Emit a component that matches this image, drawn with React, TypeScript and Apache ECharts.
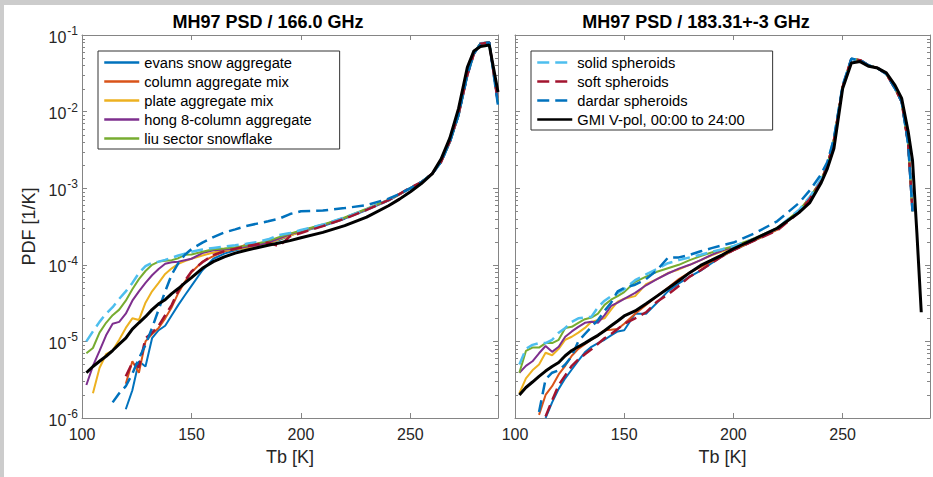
import React, { useEffect, useRef } from 'react';
import * as echarts from 'echarts';

// ---------- data ----------
const X_MIN = 100;
const X_MAX = 290;
const Y_MIN = 1e-6;
const Y_MAX = 1e-1;

const LEFT_TITLE = 'MH97 PSD / 166.0 GHz';
const RIGHT_TITLE = 'MH97 PSD / 183.31+-3 GHz';

const NAMES = [
  'evans snow aggregate',
  'column aggregate mix',
  'plate aggregate mix',
  'hong 8-column aggregate',
  'liu sector snowflake',
  'solid spheroids',
  'soft spheroids',
  'dardar spheroids',
  'GMI V-pol, 00:00 to 24:00',
];

// Left panel (166.0 GHz) – brightness temperature grid [K]
const LX = [102, 105, 108, 111, 114, 117, 120, 123, 126, 129, 132, 135, 138, 141, 144, 147, 150,
  155, 160, 165, 170, 175, 180, 185, 190, 195, 200,
  210, 220, 230, 240,
  245, 250, 255, 260, 264, 268, 272, 276, 279, 282, 286, 290];

const L_EVANS = [null, null, null, null, null, null, 1.3e-6, 2.3e-6, 5.5e-6, 4.7e-6, 1.1e-5, 1.4e-5, 1.6e-5, 2.2e-5, 3.0e-5, 4.0e-5, 5.3e-5,
  8.5e-5, 1.2e-4, 1.4e-4, 1.55e-4, 1.65e-4, 1.78e-4, 1.95e-4, 2.1e-4, 2.4e-4, 2.7e-4,
  3.2e-4, 4.0e-4, 5.2e-4, 6.9e-4,
  8.3e-4, 1.0e-3, 1.2e-3, 1.55e-3, 2.2e-3, 4.0e-3, 9.0e-3, 0.030, 0.058, 0.078, 0.080, 0.013];
const L_COLUMN = [null, null, null, null, null, null, 2.8e-6, 5.5e-6, 3.9e-6, 1.0e-5, 1.25e-5, 1.5e-5, 2.0e-5, 2.8e-5, 4.3e-5, 6.0e-5, 8.0e-5,
  1.1e-4, 1.3e-4, 1.5e-4, 1.6e-4, 1.85e-4, 1.8e-4, 2.0e-4, 2.2e-4, 2.45e-4, 2.75e-4,
  3.3e-4, 4.1e-4, 5.3e-4, 7.0e-4,
  8.3e-4, 1.0e-3, 1.2e-3, 1.55e-3, 2.2e-3, 4.0e-3, 9.2e-3, 0.030, 0.057, 0.077, 0.080, 0.013];
const L_PLATE = [null, 2.1e-6, 4.5e-6, 6.8e-6, 7.6e-6, 1.05e-5, 1.5e-5, 2.0e-5, 1.9e-5, 3.2e-5, 4.5e-5, 5.8e-5, 7.6e-5, 9.0e-5, 1.03e-4, 1.12e-4, 1.2e-4,
  1.32e-4, 1.45e-4, 1.55e-4, 1.6e-4, 1.65e-4, 1.75e-4, 1.9e-4, 2.15e-4, 2.4e-4, 2.7e-4,
  3.3e-4, 4.1e-4, 5.3e-4, 7.0e-4,
  8.3e-4, 1.0e-3, 1.2e-3, 1.55e-3, 2.2e-3, 4.0e-3, 9.0e-3, 0.030, 0.058, 0.078, 0.080, 0.013];
const L_HONG = [2.7e-6, 4.8e-6, 7.5e-6, 1.2e-5, 1.7e-5, 1.8e-5, 2.3e-5, 3.4e-5, 4.5e-5, 5.8e-5, 7.3e-5, 8.8e-5, 1.03e-4, 1.08e-4, 1.1e-4, 1.15e-4, 1.2e-4,
  1.42e-4, 1.55e-4, 1.58e-4, 1.62e-4, 1.72e-4, 1.8e-4, 1.95e-4, 2.2e-4, 2.5e-4, 2.75e-4,
  3.3e-4, 4.1e-4, 5.3e-4, 7.0e-4,
  8.3e-4, 1.0e-3, 1.2e-3, 1.55e-3, 2.2e-3, 4.0e-3, 9.0e-3, 0.030, 0.058, 0.078, 0.080, 0.013];
const L_LIU = [7.0e-6, 8.2e-6, 1.3e-5, 1.75e-5, 2.2e-5, 2.6e-5, 3.4e-5, 4.8e-5, 6.5e-5, 8.3e-5, 1.0e-4, 1.1e-4, 1.13e-4, 1.15e-4, 1.22e-4, 1.35e-4, 1.36e-4,
  1.48e-4, 1.6e-4, 1.63e-4, 1.7e-4, 1.78e-4, 1.9e-4, 2.05e-4, 2.3e-4, 2.55e-4, 2.8e-4,
  3.35e-4, 4.15e-4, 5.4e-4, 7.1e-4,
  8.4e-4, 1.0e-3, 1.2e-3, 1.55e-3, 2.2e-3, 4.0e-3, 9.0e-3, 0.030, 0.058, 0.078, 0.080, 0.013];
const L_SOLID = [1.0e-5, 1.35e-5, 1.8e-5, 2.3e-5, 2.8e-5, 3.6e-5, 4.5e-5, 5.8e-5, 7.8e-5, 9.6e-5, 1.06e-4, 1.1e-4, 1.16e-4, 1.24e-4, 1.32e-4, 1.4e-4, 1.48e-4,
  1.58e-4, 1.66e-4, 1.73e-4, 1.8e-4, 1.88e-4, 1.98e-4, 2.15e-4, 2.45e-4, 2.6e-4, 2.85e-4,
  3.35e-4, 4.15e-4, 5.3e-4, 7.0e-4,
  8.4e-4, 1.0e-3, 1.2e-3, 1.55e-3, 2.2e-3, 4.0e-3, 9.2e-3, 0.030, 0.058, 0.078, 0.080, 0.013];
const L_SOFT = [null, null, null, null, null, null, 3.5e-6, 5.3e-6, 4.6e-6, 1.1e-5, 1.3e-5, 1.6e-5, 2.2e-5, 3.0e-5, 4.6e-5, 6.2e-5, 8.2e-5,
  1.08e-4, 1.35e-4, 1.5e-4, 1.62e-4, 1.75e-4, 1.85e-4, 1.95e-4, 1.75e-4, 2.35e-4, 2.6e-4,
  3.2e-4, 4.0e-4, 5.2e-4, 7.0e-4,
  8.4e-4, 1.02e-3, 1.2e-3, 1.55e-3, 2.2e-3, 4.1e-3, 9.3e-3, 0.030, 0.057, 0.077, 0.080, 0.013];
const L_DARDAR = [null, null, null, null, 1.6e-6, 2.1e-6, 2.6e-6, 3.8e-6, 6.0e-6, 9.0e-6, 1.5e-5, 2.6e-5, 4.5e-5, 7.5e-5, 1.05e-4, 1.35e-4, 1.6e-4,
  1.95e-4, 2.3e-4, 2.65e-4, 2.9e-4, 3.2e-4, 3.45e-4, 3.7e-4, 4.0e-4, 4.6e-4, 5.0e-4,
  5.1e-4, 5.5e-4, 6.0e-4, 7.3e-4,
  8.4e-4, 1.0e-3, 1.2e-3, 1.55e-3, 2.2e-3, 4.0e-3, 9.0e-3, 0.030, 0.057, 0.077, 0.080, 0.012];
const L_GMI = [3.9e-6, 4.7e-6, 5.5e-6, 6.4e-6, 7.6e-6, 9.2e-6, 1.1e-5, 1.45e-5, 1.75e-5, 2.1e-5, 2.6e-5, 3.1e-5, 3.5e-5, 4.2e-5, 4.9e-5, 5.8e-5, 6.8e-5,
  9.0e-5, 1.1e-4, 1.27e-4, 1.42e-4, 1.55e-4, 1.67e-4, 1.8e-4, 1.93e-4, 2.07e-4, 2.25e-4,
  2.65e-4, 3.25e-4, 4.2e-4, 5.9e-4,
  7.2e-4, 9.0e-4, 1.15e-3, 1.55e-3, 2.4e-3, 4.5e-3, 0.011, 0.038, 0.062, 0.071, 0.074, 0.018];

// Right panel (183.31+-3 GHz)
const RX = [102, 105, 108, 111, 114, 117, 120, 123, 126, 129, 132, 135, 138, 141, 144, 147, 150,
  155, 160, 165, 170, 175, 180, 185, 190, 195, 200,
  210, 220, 230,
  235, 240, 243, 246, 250, 254, 258, 262, 266, 270, 274, 277, 280, 282, 284, 286];

const R_EVANS = [null, null, null, null, 1.0e-6, 1.6e-6, 2.4e-6, 3.3e-6, 4.3e-6, 5.6e-6, 7.2e-6, 8.5e-6, 9.5e-6, 1.05e-5, 1.2e-5, 1.35e-5, 1.4e-5,
  2.3e-5, 2.3e-5, 3.2e-5, 4.5e-5, 5.7e-5, 7.0e-5, 8.4e-5, 1.05e-4, 1.3e-4, 1.55e-4,
  2.1e-4, 2.9e-4, 4.9e-4,
  7.4e-4, 1.2e-3, 1.95e-3, 4.2e-3, 0.021, 0.049, 0.047, 0.040, 0.037, 0.031, 0.020, 0.0135, 3.8e-3, 5.0e-4, null, null];
const R_COLUMN = [null, null, null, 1.1e-6, 2.0e-6, 2.6e-6, 3.7e-6, 4.8e-6, 6.5e-6, 8.0e-6, 9.2e-6, 1.05e-5, 1.2e-5, 1.4e-5, 1.42e-5, 1.45e-5, 1.7e-5,
  2.3e-5, 3.0e-5, 3.9e-5, 5.0e-5, 6.5e-5, 8.0e-5, 9.3e-5, 1.1e-4, 1.3e-4, 1.55e-4,
  2.1e-4, 2.85e-4, 4.9e-4,
  7.4e-4, 1.2e-3, 1.95e-3, 4.2e-3, 0.021, 0.049, 0.047, 0.040, 0.037, 0.031, 0.020, 0.0135, 3.8e-3, 5.0e-4, null, null];
const R_PLATE = [2.1e-6, 3.3e-6, 4.2e-6, 5.0e-6, 7.1e-6, 6.6e-6, 8.0e-6, 1.05e-5, 1.15e-5, 1.3e-5, 1.5e-5, 1.8e-5, 1.9e-5, 2.0e-5, 2.6e-5, 3.3e-5, 3.6e-5,
  3.9e-5, 5.6e-5, 6.5e-5, 7.8e-5, 8.7e-5, 1.0e-4, 1.15e-4, 1.33e-4, 1.5e-4, 1.68e-4,
  2.2e-4, 2.95e-4, 5.0e-4,
  7.5e-4, 1.25e-3, 2.0e-3, 4.3e-3, 0.021, 0.049, 0.047, 0.040, 0.037, 0.031, 0.020, 0.0135, 3.8e-3, 5.0e-4, null, null];
const R_HONG = [3.9e-6, 4.8e-6, 5.5e-6, 7.0e-6, 8.7e-6, 7.3e-6, 8.5e-6, 1.15e-5, 1.35e-5, 1.55e-5, 1.75e-5, 1.8e-5, 1.75e-5, 2.2e-5, 2.9e-5, 3.2e-5, 3.6e-5,
  4.3e-5, 5.4e-5, 6.5e-5, 7.7e-5, 8.9e-5, 1.0e-4, 1.15e-4, 1.35e-4, 1.55e-4, 1.7e-4,
  2.2e-4, 2.95e-4, 5.0e-4,
  7.5e-4, 1.25e-3, 2.0e-3, 4.3e-3, 0.021, 0.049, 0.047, 0.040, 0.037, 0.031, 0.020, 0.0135, 3.8e-3, 5.0e-4, null, null];
const R_LIU = [3.9e-6, 7.5e-6, 8.3e-6, 8.3e-6, 9.5e-6, 9.5e-6, 1.05e-5, 1.5e-5, 1.55e-5, 1.75e-5, 1.95e-5, 2.05e-5, 2.3e-5, 3.0e-5, 3.5e-5, 3.9e-5, 4.4e-5,
  6.0e-5, 7.0e-5, 8.1e-5, 9.0e-5, 1.0e-4, 1.15e-4, 1.3e-4, 1.45e-4, 1.6e-4, 1.75e-4,
  2.25e-4, 3.0e-4, 5.1e-4,
  7.6e-4, 1.25e-3, 2.0e-3, 4.4e-3, 0.021, 0.049, 0.047, 0.040, 0.037, 0.031, 0.020, 0.0135, 3.8e-3, 5.0e-4, null, null];
const R_SOLID = [5.0e-6, 8.0e-6, 9.0e-6, 9.5e-6, 9.5e-6, 1.05e-5, 1.3e-5, 1.5e-5, 1.8e-5, 2.0e-5, 2.05e-5, 2.1e-5, 2.8e-5, 3.4e-5, 3.9e-5, 4.3e-5, 4.8e-5,
  6.3e-5, 7.5e-5, 8.8e-5, 1.05e-4, 1.15e-4, 1.25e-4, 1.35e-4, 1.48e-4, 1.6e-4, 1.75e-4,
  2.2e-4, 3.0e-4, 5.2e-4,
  7.7e-4, 1.3e-3, 2.1e-3, 4.5e-3, 0.021, 0.049, 0.047, 0.040, 0.037, 0.031, 0.020, 0.0135, 3.8e-3, 5.0e-4, null, null];
const R_SOFT = [null, null, null, null, 1.05e-6, 1.7e-6, 2.7e-6, 3.6e-6, 4.8e-6, 5.8e-6, 6.8e-6, 7.9e-6, 9.3e-6, 1.1e-5, 1.25e-5, 1.45e-5, 1.7e-5,
  2.0e-5, 2.4e-5, 3.3e-5, 4.1e-5, 5.3e-5, 7.0e-5, 8.5e-5, 1.05e-4, 1.3e-4, 1.55e-4,
  2.1e-4, 2.8e-4, 4.8e-4,
  7.3e-4, 1.2e-3, 1.95e-3, 4.2e-3, 0.021, 0.049, 0.047, 0.040, 0.037, 0.031, 0.020, 0.0135, 3.8e-3, 5.0e-4, null, null];
const R_DARDAR = [null, null, null, 1.2e-6, 3.2e-6, 3.9e-6, 4.2e-6, 5.0e-6, 6.4e-6, 1.0e-5, 1.25e-5, 1.55e-5, 1.9e-5, 2.5e-5, 3.2e-5, 4.5e-5, 5.0e-5,
  5.5e-5, 6.5e-5, 8.5e-5, 1.24e-4, 1.25e-4, 1.35e-4, 1.5e-4, 1.65e-4, 1.8e-4, 1.95e-4,
  2.6e-4, 3.7e-4, 6.4e-4,
  9.4e-4, 1.5e-3, 2.2e-3, 4.4e-3, 0.022, 0.049, 0.047, 0.040, 0.037, 0.031, 0.020, 0.0135, 3.8e-3, 5.0e-4, null, null];
const R_GMI = [2.0e-6, 2.5e-6, 2.95e-6, 3.5e-6, 4.1e-6, 4.7e-6, 5.3e-6, 6.5e-6, 7.6e-6, 8.5e-6, 9.5e-6, 1.07e-5, 1.2e-5, 1.38e-5, 1.6e-5, 1.85e-5, 2.15e-5,
  2.5e-5, 3.1e-5, 3.9e-5, 4.9e-5, 6.2e-5, 7.9e-5, 9.8e-5, 1.15e-4, 1.35e-4, 1.62e-4,
  2.2e-4, 3.0e-4, 4.8e-4,
  6.5e-4, 1.15e-3, 1.8e-3, 3.3e-3, 0.020, 0.043, 0.045, 0.039, 0.037, 0.032, 0.022, 0.015, 5.5e-3, 2.3e-3, 2.6e-4, 2.4e-5];

const LEFT_SERIES = [L_EVANS, L_COLUMN, L_PLATE, L_HONG, L_LIU, L_SOLID, L_SOFT, L_DARDAR, L_GMI];
const RIGHT_SERIES = [R_EVANS, R_COLUMN, R_PLATE, R_HONG, R_LIU, R_SOLID, R_SOFT, R_DARDAR, R_GMI];

// ---------- styling ----------
const COLORS = ['#0072BD', '#D95319', '#EDB120', '#7E2F8E', '#77AC30', '#4DBEEE', '#A2142F', '#0072BD', '#000000'];
const DASHED = [false, false, false, false, false, true, true, true, false];
const FONT = "'Liberation Sans', Arial, Helvetica, sans-serif";
const AXIS_COLOR = '#858585';
const TEXT_COLOR = '#262626';

const MINOR_TICKS: number[] = [];
for (let e = -6; e <= -2; e++) {
  for (let m = 2; m <= 9; m++) MINOR_TICKS.push(m * Math.pow(10, e));
}

function pairs(xs: number[], ys: (number | null)[]) {
  const out: number[][] = [];
  xs.forEach((x, i) => {
    const y = ys[i];
    if (y !== null && y !== undefined) out.push([x, y]);
  });
  return out;
}

export default function App() {
  const ref = useRef<HTMLDivElement>(null);

  useEffect(() => {
    document.body.style.margin = '0';
    if (!ref.current) return;
    const chart = echarts.init(ref.current, undefined, { renderer: 'svg' });

    const grids = [
      { left: 82, top: 35, width: 416, height: 383 },
      { left: 515, top: 35, width: 415, height: 383 },
    ];

    const xAxes: any[] = [];
    const yAxes: any[] = [];
    grids.forEach((_, g) => {
      xAxes.push({
        gridIndex: g, type: 'value', min: X_MIN, max: X_MAX, interval: 50, position: 'bottom',
        axisLine: { show: true, onZero: false, lineStyle: { color: AXIS_COLOR, width: 1 } },
        axisTick: { show: true, inside: true, length: 5, lineStyle: { color: AXIS_COLOR } },
        axisLabel: { show: true, color: TEXT_COLOR, fontSize: 16, fontFamily: FONT, margin: 8, showMaxLabel: false },
        splitLine: { show: false },
        name: 'Tb [K]', nameLocation: 'middle', nameGap: 30,
        nameTextStyle: { color: TEXT_COLOR, fontSize: 18, fontFamily: FONT },
      });
      xAxes.push({
        gridIndex: g, type: 'value', min: X_MIN, max: X_MAX, interval: 50, position: 'top',
        axisLine: { show: true, onZero: false, lineStyle: { color: AXIS_COLOR, width: 1 } },
        axisTick: { show: true, inside: true, length: 5, lineStyle: { color: AXIS_COLOR } },
        axisLabel: { show: false },
        splitLine: { show: false },
      });
      yAxes.push({
        gridIndex: g, type: 'log', logBase: 10, min: Y_MIN, max: Y_MAX, position: 'left',
        axisLine: { show: true, onZero: false, lineStyle: { color: AXIS_COLOR, width: 1 } },
        axisTick: { show: true, inside: true, length: 5, lineStyle: { color: AXIS_COLOR } },
        axisLabel: {
          show: g === 0, margin: 4, fontFamily: FONT, color: TEXT_COLOR,
          formatter: (v: number) => `{b|10}{e|${Math.round(Math.log10(v))}}`,
          rich: {
            b: { fontSize: 16, fontFamily: FONT, color: TEXT_COLOR, lineHeight: 20, verticalAlign: 'bottom' },
            e: { fontSize: 12, fontFamily: FONT, color: TEXT_COLOR, lineHeight: 20, verticalAlign: 'top', padding: [0, 0, 0, 1] },
          },
        },
        splitLine: { show: false },
        name: g === 0 ? 'PDF [1/K]' : '', nameLocation: 'middle', nameGap: 44, nameRotate: 90,
        nameTextStyle: { color: TEXT_COLOR, fontSize: 18, fontFamily: FONT },
      });
      yAxes.push({
        gridIndex: g, type: 'log', logBase: 10, min: Y_MIN, max: Y_MAX, position: 'right',
        axisLine: { show: true, onZero: false, lineStyle: { color: AXIS_COLOR, width: 1 } },
        axisTick: { show: true, inside: true, length: 5, lineStyle: { color: AXIS_COLOR } },
        axisLabel: { show: false },
        splitLine: { show: false },
      });
    });

    const series: any[] = [];
    [LEFT_SERIES, RIGHT_SERIES].forEach((set, g) => {
      const xs = g === 0 ? LX : RX;
      set.forEach((ys, i) => {
        series.push({
          type: 'line', name: NAMES[i], xAxisIndex: g * 2, yAxisIndex: g * 2,
          data: pairs(xs, ys as (number | null)[]),
          symbol: 'none', showSymbol: false, smooth: false,
          lineStyle: {
            color: COLORS[i],
            width: i === 8 ? 3 : DASHED[i] ? 2.5 : 2,
            type: DASHED[i] ? [12, 6] : 'solid',
          },
          itemStyle: { color: COLORS[i] },
          z: 2 + i,
          emphasis: { disabled: true },
        });
      });
      series.push({
        type: 'custom', xAxisIndex: g * 2, yAxisIndex: g * 2, silent: true, clip: false, z: 1,
        data: MINOR_TICKS.map((v) => [X_MIN, v]),
        encode: { x: 0, y: 1 },
        renderItem: (_p: any, api: any) => {
          const v = api.value(1);
          const l = api.coord([X_MIN, v]);
          const r = api.coord([X_MAX, v]);
          const y = Math.round(l[1]) + 0.5;
          return {
            type: 'group',
            children: [
              { type: 'line', shape: { x1: l[0], y1: y, x2: l[0] + 3, y2: y }, style: { stroke: AXIS_COLOR, lineWidth: 1 } },
              { type: 'line', shape: { x1: r[0], y1: y, x2: r[0] - 3, y2: y }, style: { stroke: AXIS_COLOR, lineWidth: 1 } },
            ],
          };
        },
      });
    });

    const legendBase = {
      orient: 'vertical', itemWidth: 35, itemHeight: 15, itemGap: 4,
      borderColor: '#333333', borderWidth: 1, backgroundColor: '#ffffff', borderRadius: 0,
      textStyle: { fontSize: 14.7, lineHeight: 15, color: '#000000', fontFamily: FONT },
      itemStyle: { opacity: 0 },
      lineStyle: { width: 2.5 },
      selectedMode: false,
    };

    chart.setOption({
      animation: false,
      backgroundColor: '#ffffff',
      grid: grids.map((g) => ({ ...g, containLabel: false })),
      xAxis: xAxes,
      yAxis: yAxes,
      legend: [
        { ...legendBase, data: NAMES.slice(0, 5), left: 98, top: 51, padding: [4, 28, 3, 5] },
        { ...legendBase, data: NAMES.slice(5), left: 531, top: 51, padding: [4, 28, 3, 5] },
      ],
      graphic: [
        { type: 'rect', shape: { x: 0, y: 0, width: 933, height: 5 }, style: { fill: '#cccccc' }, silent: true },
        { type: 'rect', shape: { x: 0, y: 0, width: 4, height: 477 }, style: { fill: '#cccccc' }, silent: true },
        {
          type: 'text', x: 268, y: 22, silent: true,
          style: { text: LEFT_TITLE, fontSize: 18, fontWeight: 'bold', fontFamily: FONT, fill: '#000000', align: 'center', verticalAlign: 'middle' },
        },
        {
          type: 'text', x: 696, y: 22, silent: true,
          style: { text: RIGHT_TITLE, fontSize: 18, fontWeight: 'bold', fontFamily: FONT, fill: '#000000', align: 'center', verticalAlign: 'middle' },
        },
      ],
      series,
    });

    return () => chart.dispose();
  }, []);

  return <div ref={ref} style={{ width: 933, height: 477 }} />;
}
